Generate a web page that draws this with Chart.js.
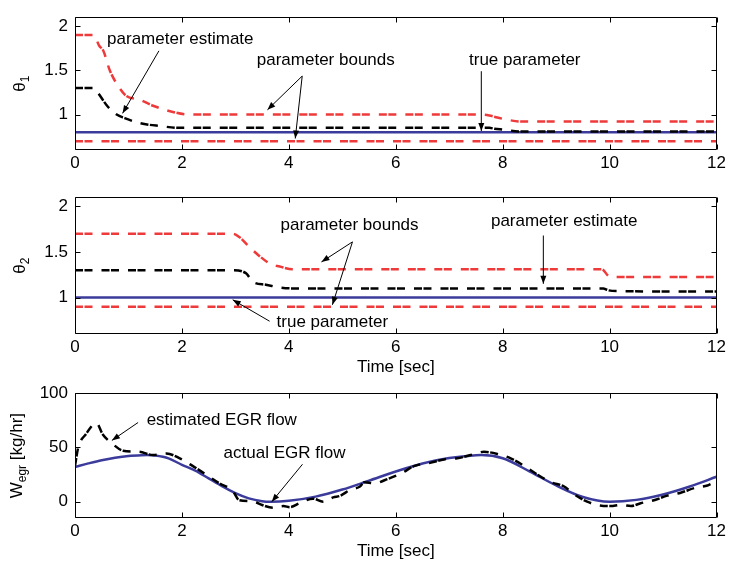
<!DOCTYPE html>
<html><head><meta charset="utf-8">
<script src="https://cdn.jsdelivr.net/npm/chart.js@4"></script>
<style>
html,body{margin:0;padding:0;background:#fff;}
#wrap{position:relative;width:729px;height:562px;overflow:hidden;}
canvas{position:absolute;left:0;}
</style></head>
<body><div id="wrap">
<canvas id="c1" width="729" height="180" style="top:0px"></canvas>
<canvas id="c2" width="729" height="196" style="top:180px"></canvas>
<canvas id="c3" width="729" height="186" style="top:376px"></canvas>
</div>
<script>
// ---------- data ----------
const timeTicks = [0, 2, 4, 6, 8, 10, 12];
const thetaTicks = [1, 1.5, 2];
const egrTicks = [0, 50, 100];

// theta_1 panel
const th1UpperT = [0, 0.35, 0.45, 0.53, 0.65, 0.81, 0.96, 1.2, 1.46, 1.83, 2.15, 7.6, 7.75, 7.9, 8.1, 8.34, 12];
const th1UpperV = [1.9, 1.9, 1.78, 1.72, 1.5, 1.32, 1.21, 1.17, 1.10, 1.03, 1.0, 1.0, 0.99, 0.967, 0.94, 0.922, 0.922];
const th1EstT = [0, 0.35, 0.4, 0.6, 0.78, 0.93, 1.2, 1.6, 1.96, 7.75, 7.85, 8.0, 8.3, 12];
const th1EstV = [1.3, 1.3, 1.27, 1.1, 1.0, 0.96, 0.905, 0.87, 0.85, 0.85, 0.84, 0.83, 0.81, 0.81];
const th1LowerT = [0, 12];
const th1LowerV = [0.7, 0.7];
const th1TrueT = [0, 12];
const th1TrueV = [0.8, 0.8];

// theta_2 panel
const th2UpperT = [0, 2.95, 3.08, 3.27, 3.46, 3.65, 3.83, 4.07, 9.85, 10.01, 12];
const th2UpperV = [1.7, 1.7, 1.66, 1.55, 1.45, 1.37, 1.34, 1.31, 1.31, 1.225, 1.225];
const th2EstT = [0, 2.95, 3.2, 3.33, 3.57, 3.83, 4.07, 9.88, 9.97, 10.15, 12];
const th2EstV = [1.3, 1.3, 1.265, 1.17, 1.14, 1.11, 1.1, 1.1, 1.08, 1.07, 1.065];
const th2LowerT = [0, 12];
const th2LowerV = [0.9, 0.9];
const th2TrueT = [0, 12];
const th2TrueV = [1.0, 1.0];

// EGR flow panel
const egrActualT = [0,0.25,0.5,0.75,1,1.25,1.35,1.5,1.75,2,2.25,2.5,2.75,3,3.25,3.5,3.65,4,4.5,5,5.5,6,6.5,7,7.5,7.6,8,8.5,9,9.5,10,10.5,11,11.5,12];
const egrActualV = [32,35.3,38.3,40.6,42.2,42.9,43,42.5,39.9,34,28.7,21.5,14.3,7.9,3.1,0.5,0,0.8,4.7,11.2,19.4,27.8,35.3,40.3,42.9,43,40,28,15,4.4,0,1.7,6.6,14,23];
const egrEstT = [0,0.06,0.2,0.4,0.52,0.71,0.9,1.2,1.46,1.71,1.96,2.2,2.45,2.7,2.95,3.07,3.32,3.5,3.7,3.9,4.02,4.2,4.45,4.64,4.83,4.96,5.15,5.33,5.41,5.6,5.85,6.1,6.35,6.66,6.9,7.15,7.4,7.65,7.9,8.15,8.4,8.65,8.9,9.15,9.33,9.58,9.77,10.02,10.2,10.4,10.58,10.83,11.08,11.33,11.58,11.83,11.9];
const egrEstV = [33,50,62,72.5,62,53,47,46,43,44.4,40,33,25,17,10,1.5,0.5,-3,-5.5,-4,-5,-1.4,2.8,0,4,5.5,11,14,18,17,21,26,33,36,39,40,43,46,44,40,33,25,18,14,7,0,-3,-4,-3,-4,-1.4,1.4,5.6,8.3,12.5,15,16.5];

// ---------- styling ----------
const FONT = '"Liberation Sans", Arial, Helvetica, sans-serif';
const RED = '#ee3a3a', BLACK = '#000000', BLUE = '#3b3b9c';
const DASH = [8, 1.5, 8, 9];
Chart.defaults.font.family = FONT;
Chart.defaults.font.size = 17;
Chart.defaults.color = '#000';

function pts(xs, ys) { return xs.map((v, i) => ({x: v, y: ys[i]})); }
function ds(xs, ys, color, dashed, order, smooth) {
  return {
    data: pts(xs, ys), borderColor: color, borderWidth: 2.5, pointRadius: 0,
    borderDash: dashed ? DASH : [], borderCapStyle: 'butt', fill: false,
    cubicInterpolationMode: smooth ? 'monotone' : 'default', tension: 0, order: order
  };
}

function arrow(ctx, x1, y1, x2, y2) {
  ctx.beginPath(); ctx.moveTo(x1, y1); ctx.lineTo(x2, y2); ctx.stroke();
  const a = Math.atan2(y2 - y1, x2 - x1), L = 8, W = 3;
  ctx.beginPath();
  ctx.moveTo(x2, y2);
  ctx.lineTo(x2 - L * Math.cos(a) + W * Math.sin(a), y2 - L * Math.sin(a) - W * Math.cos(a));
  ctx.lineTo(x2 - L * Math.cos(a) - W * Math.sin(a), y2 - L * Math.sin(a) + W * Math.cos(a));
  ctx.closePath(); ctx.fill();
}

const decoPlugin = {
  id: 'deco',
  afterDraw(chart, args, opts) {
    const {ctx, chartArea: a, scales: {x, y}} = chart;
    ctx.save();
    ctx.strokeStyle = '#000'; ctx.fillStyle = '#000'; ctx.lineWidth = 1;
    const L = Math.round(a.left) + 0.5, R = Math.round(a.right) - 0.5;
    const T = Math.round(a.top) + 0.5, B = Math.round(a.bottom) - 0.5;
    ctx.beginPath(); ctx.rect(L, T, R - L, B - T); ctx.stroke();
    const tk = 5;
    ctx.beginPath();
    x.ticks.forEach(t => {
      const p = Math.round(x.getPixelForValue(t.value)) + 0.5;
      ctx.moveTo(p, B); ctx.lineTo(p, B - tk);
      ctx.moveTo(p, T); ctx.lineTo(p, T + tk);
    });
    y.ticks.forEach(t => {
      const p = Math.round(y.getPixelForValue(t.value)) + 0.5;
      ctx.moveTo(L, p); ctx.lineTo(L + tk, p);
      ctx.moveTo(R, p); ctx.lineTo(R - tk, p);
    });
    ctx.stroke();
    // annotations
    ctx.font = '17px ' + FONT; ctx.textBaseline = 'middle'; ctx.textAlign = 'left';
    (opts.labels || []).forEach(l => ctx.fillText(l.text, x.getPixelForValue(l.x), y.getPixelForValue(l.y)));
    (opts.arrows || []).forEach(r => arrow(ctx, x.getPixelForValue(r[0]), y.getPixelForValue(r[1]),
                                          x.getPixelForValue(r[2]), y.getPixelForValue(r[3])));
    // y-axis title with subscript
    const parts = opts.ytitle || [];
    const big = '17px ' + FONT, small = '12px ' + FONT;
    let w = 0;
    parts.forEach(p => { ctx.font = p.sub ? small : big; p.w = ctx.measureText(p.t).width; w += p.w; });
    ctx.translate(opts.ytitleX, (a.top + a.bottom) / 2);
    ctx.rotate(-Math.PI / 2);
    ctx.textBaseline = 'alphabetic';
    let cx = -w / 2;
    parts.forEach(p => { ctx.font = p.sub ? small : big; ctx.fillText(p.t, cx, p.sub ? 4 : 0); cx += p.w; });
    ctx.restore();
  }
};

function makeChart(id, datasets, yMin, yMax, yTicks, xTitle, xHeight, padTop, padBottom, deco) {
  return new Chart(document.getElementById(id), {
    type: 'line',
    data: {datasets: datasets},
    plugins: [decoPlugin],
    options: {
      responsive: false, animation: false, devicePixelRatio: 1,
      layout: {padding: {left: 0, right: 11, top: padTop, bottom: padBottom}},
      plugins: {legend: {display: false}, tooltip: {enabled: false}, deco: deco},
      scales: {
        x: {
          type: 'linear', min: 0, max: 12,
          grid: {display: false, drawTicks: false}, border: {display: false},
          afterBuildTicks: s => { s.ticks = timeTicks.map(v => ({value: v})); },
          ticks: {padding: 3, maxRotation: 0, autoSkip: false, callback: v => String(v)},
          title: {display: !!xTitle, text: xTitle || '', padding: 0, font: {size: 17, lineHeight: 1}},
          afterFit: s => { s.height = xHeight; }
        },
        y: {
          type: 'linear', min: yMin, max: yMax,
          grid: {display: false, drawTicks: false}, border: {display: false},
          afterBuildTicks: s => { s.ticks = yTicks.map(v => ({value: v})); },
          ticks: {padding: 7, autoSkip: false, callback: v => String(v)},
          afterFit: s => { s.width = 75; }
        }
      }
    }
  });
}

makeChart('c1', [
  ds(th1TrueT, th1TrueV, BLUE, false, 3, false),
  ds(th1EstT, th1EstV, BLACK, true, 2, true),
  ds(th1UpperT, th1UpperV, RED, true, 1, true),
  ds(th1LowerT, th1LowerV, RED, true, 1, false)
], 0.6, 2.1, thetaTicks, null, 30, 12, 0, {
  ytitle: [{t: 'θ'}, {t: '1', sub: true}], ytitleX: 25,
  labels: [
    {text: 'parameter estimate', x: 0.6, y: 1.85},
    {text: 'parameter bounds', x: 3.4, y: 1.61},
    {text: 'true parameter', x: 7.37, y: 1.61}
  ],
  arrows: [[1.57, 1.72, 0.89, 1.014], [4.25, 1.435, 3.60, 1.054], [4.25, 1.435, 4.12, 0.73], [7.6, 1.49, 7.6, 0.815]]
});

makeChart('c2', [
  ds(th2TrueT, th2TrueV, BLUE, false, 3, false),
  ds(th2EstT, th2EstV, BLACK, true, 2, true),
  ds(th2UpperT, th2UpperV, RED, true, 1, true),
  ds(th2LowerT, th2LowerV, RED, true, 1, false)
], 0.6, 2.1, thetaTicks, 'Time [sec]', 42, 15, 0, {
  ytitle: [{t: 'θ'}, {t: '2', sub: true}], ytitleX: 25,
  labels: [
    {text: 'parameter bounds', x: 3.845, y: 1.79},
    {text: 'true parameter', x: 3.77, y: 0.73},
    {text: 'parameter estimate', x: 7.78, y: 1.84}
  ],
  arrows: [[5.19, 1.61, 4.61, 1.39], [5.19, 1.61, 4.815, 0.92], [3.64, 0.74, 2.95, 0.975], [8.76, 1.68, 8.76, 1.15]]
});

makeChart('c3', [
  ds(egrActualT, egrActualV, BLUE, false, 2, true),
  ds(egrEstT, egrEstV, BLACK, true, 1, true)
], -15, 100, egrTicks, 'Time [sec]', 42, 3, 2, {
  ytitle: [{t: 'W'}, {t: 'egr', sub: true}, {t: ' [kg/hr]'}], ytitleX: 22,
  labels: [
    {text: 'estimated EGR flow', x: 1.34, y: 75.3},
    {text: 'actual EGR flow', x: 2.78, y: 44.7}
  ],
  arrows: [[1.18, 73, 0.69, 56.5], [4.255, 34.5, 3.68, 0]]
});
</script>
</body></html>
